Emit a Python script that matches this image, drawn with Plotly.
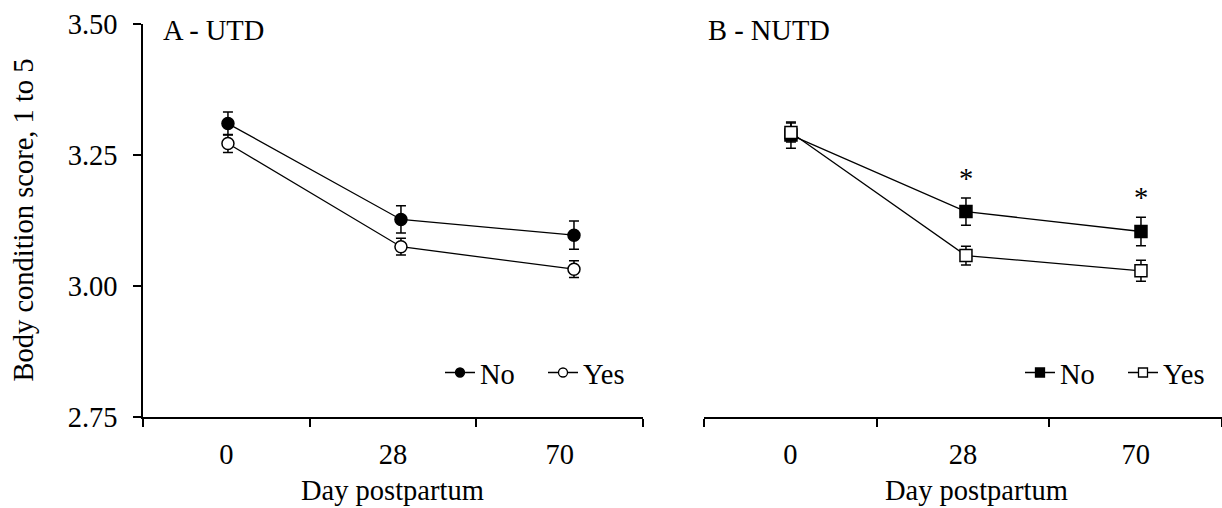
import plotly.graph_objects as go

days = ["0", "28", "70"]
groups = ["No", "Yes"]

# Panel A - UTD
a_no_mean = [3.310, 3.127, 3.097]
a_no_se = [0.022, 0.026, 0.027]
a_yes_mean = [3.272, 3.075, 3.032]
a_yes_se = [0.017, 0.016, 0.016]

# Panel B - NUTD
b_no_mean = [3.288, 3.142, 3.104]
b_no_se = [0.025, 0.026, 0.027]
b_yes_mean = [3.293, 3.058, 3.029]
b_yes_se = [0.018, 0.018, 0.020]
b_signif = ["", "*", "*"]

y_ticks = [2.75, 3.00, 3.25, 3.50]

FONT = "Liberation Serif, Times New Roman, serif"
FS = 28.5
xpos = list(range(len(days)))

fig = go.Figure()

def add_series(xaxis, yaxis, mean, se, symbol, fill, name, legend):
    fig.add_trace(go.Scatter(
        x=xpos, y=mean, name=name, mode="lines+markers",
        xaxis=xaxis, yaxis=yaxis, showlegend=False,
        line=dict(color="black", width=1.3),
        marker=dict(symbol=symbol, size=12, color=fill,
                    line=dict(color="black", width=1.5)),
        error_y=dict(type="data", array=se, visible=True, color="black",
                     thickness=1.5, width=5),
    ))
    # legend-only entry with the smaller legend glyph
    fig.add_trace(go.Scatter(
        x=[None], y=[None], name=name, mode="lines+markers",
        xaxis=xaxis, yaxis=yaxis, legend=legend, showlegend=True,
        line=dict(color="black", width=1.3),
        marker=dict(symbol=symbol, size=9, color=fill,
                    line=dict(color="black", width=1.3)),
    ))

add_series("x", "y", a_no_mean, a_no_se, "circle", "black", groups[0], "legend")
add_series("x", "y", a_yes_mean, a_yes_se, "circle", "white", groups[1], "legend")
add_series("x2", "y2", b_no_mean, b_no_se, "square", "black", groups[0], "legend2")
add_series("x2", "y2", b_yes_mean, b_yes_se, "square", "white", groups[1], "legend2")

# axis ranges (category index units)
a_range = [-0.491, 2.399]
b_range = [-0.497, 2.463]

def boundaries(rng):
    w = (rng[1] - rng[0]) / len(days)
    return [rng[0] + i * w for i in range(len(days) + 1)]

def xaxis_cfg(rng, domain, anchor):
    bnd = boundaries(rng)
    mids = [(bnd[i] + bnd[i + 1]) / 2 for i in range(len(days))]
    bnd_t = [bnd[0] + 0.002] + bnd[1:-1] + [bnd[-1] - 0.002]
    return dict(
        domain=domain, range=rng, anchor=anchor, showgrid=False, zeroline=False,
        showline=True, linecolor="black", linewidth=1.5, automargin=False,
        tickmode="array", tickvals=mids, ticktext=days, ticks="",
        tickfont=dict(family=FONT, size=FS, color="black"),
        ticklabelstandoff=11,
        minor=dict(tickmode="array", tickvals=bnd_t, ticks="outside",
                   ticklen=8, tickwidth=1.5, tickcolor="black", showgrid=False),
    )

leg_common = dict(orientation="h", yanchor="middle", xanchor="left",
                  bgcolor="rgba(0,0,0,0)", entrywidth=58, entrywidthmode="pixels",
                  font=dict(family=FONT, size=FS, color="black"))

fig.update_layout(
    width=1222, height=508,
    margin=dict(l=143, r=0, t=24, b=91, autoexpand=False),
    paper_bgcolor="white", plot_bgcolor="white",
    showlegend=True,
    xaxis=xaxis_cfg(a_range, [0, 0.4634], "y"),
    xaxis2=xaxis_cfg(b_range, [0.5199, 1.0], "y2"),
    yaxis=dict(range=[2.75, 3.50], tickvals=y_ticks,
               ticktext=[f"{v:.2f}" for v in y_ticks],
               showgrid=False, zeroline=False, showline=True, automargin=False,
               linecolor="black", linewidth=1.5, ticks="outside",
               ticklen=8, tickwidth=1.5, tickcolor="black",
               tickfont=dict(family=FONT, size=FS, color="black"),
               ticklabelstandoff=10),
    yaxis2=dict(range=[2.75, 3.50], anchor="x2", showgrid=False,
                zeroline=False, showline=False, showticklabels=False,
                ticks=""),
    legend=dict(x=(440 - 143) / 1079, y=0.112, **leg_common),
    legend2=dict(x=(1020 - 143) / 1079, y=0.112, **leg_common),
)

ann_font = dict(family=FONT, size=FS, color="black")
# panel labels
fig.add_annotation(text="A - UTD", xref="paper", yref="paper",
                   x=(161 - 143) / 1079, y=1.0 - (31 - 24) / 393,
                   xanchor="left", yanchor="middle", showarrow=False, font=ann_font)
fig.add_annotation(text="B - NUTD", xref="paper", yref="paper",
                   x=(706 - 143) / 1079, y=1.0 - (30 - 24) / 393,
                   xanchor="left", yanchor="middle", showarrow=False, font=ann_font)
# axis titles
fig.add_annotation(text="Day postpartum", xref="paper", yref="paper",
                   x=(392 - 143) / 1079, y=-(490 - 417) / 393,
                   xanchor="center", yanchor="middle", showarrow=False, font=ann_font)
fig.add_annotation(text="Day postpartum", xref="paper", yref="paper",
                   x=(976 - 143) / 1079, y=-(490 - 417) / 393,
                   xanchor="center", yanchor="middle", showarrow=False, font=ann_font)
fig.add_annotation(text="Body condition score, 1 to 5", xref="paper", yref="paper",
                   x=(23 - 143) / 1079, y=0.5, textangle=-90,
                   xanchor="center", yanchor="middle", showarrow=False, font=ann_font)
# significance markers
for i, s in enumerate(b_signif):
    if s:
        fig.add_annotation(text=s, xref="x2", yref="y2", x=xpos[i],
                           y=b_no_mean[i] + b_no_se[i], yanchor="bottom",
                           yshift=2, showarrow=False, font=ann_font)

fig.write_html("out.html")
